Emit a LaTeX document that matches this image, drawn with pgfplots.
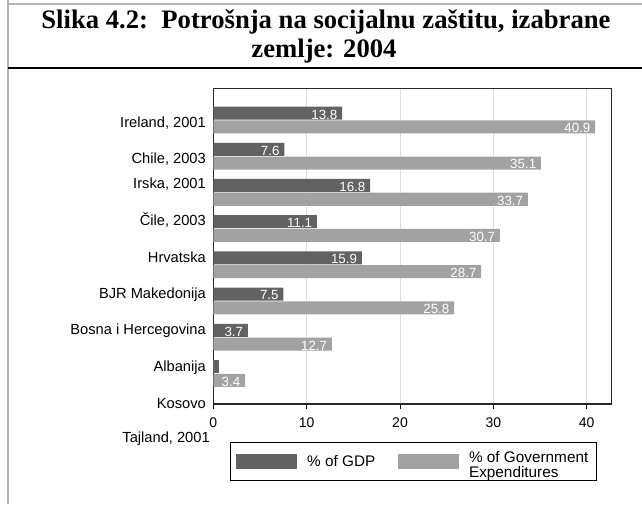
\documentclass[border=0pt]{standalone}
\usepackage{fontspec}
\setmainfont{Liberation Serif}
\newfontfamily\arial{Liberation Sans}
\usepackage{pgfplots}
\pgfplotsset{compat=1.18}
\definecolor{gdp}{HTML}{626262}
\definecolor{gov}{HTML}{A2A2A2}
\definecolor{gridc}{HTML}{DEDEDE}
\definecolor{framec}{HTML}{B4B4B4}
\begin{document}
\begin{tikzpicture}
\begin{scope}[x=0.75pt,y=0.75pt]
\path[use as bounding box] (0,0) rectangle (642,504);
\draw[framec, line width=1.1pt] (8,504) -- (8,0);
\draw[framec, line width=1.1pt] (8,500) -- (642,500);
\draw[black, line width=1.1pt] (8,436) -- (642,436);
\node[anchor=base, inner sep=0pt, font=\bfseries\fontsize{20}{22}\selectfont] at (326,475.5) {Slika 4.2:\ \ Potrošnja na socijalnu zaštitu, izabrane};
\node[anchor=base, inner sep=0pt, font=\bfseries\fontsize{20}{22}\selectfont] at (324,446) {zemlje: 2004};
\end{scope}
\begin{axis}[
  at={(160pt,75pt)}, anchor=south west,
  scale only axis, width=298.8pt, height=236.8pt,
  xmin=0, xmax=42.68, ymin=0.155, ymax=8.876,
  xbar, bar shift=0pt, bar width=0.36,
  clip=false,
  axis line style={line width=0.8pt, black!85},
  xtick={0,10,20,30,40},
  xtick pos=bottom,
  tick align=outside, major tick length=3.75pt,
  x tick style={black, line width=0.75pt},
  y tick style={draw=none},
  xmajorgrids, grid style={gridc, line width=0.75pt},
  /pgf/number format/assume math mode=true,
  xticklabel style={font=\arial\fontsize{10.5}{12}\selectfont, inner sep=0pt, yshift=-6.6pt},
  ytick={7.925,6.923,6.232,5.238,4.215,3.166,2.171,1.149,0.155},
  yticklabels={{Ireland, 2001},{Chile, 2003},{Irska, 2001},{Čile, 2003},Hrvatska,{BJR Makedonija},{Bosna i Hercegovina},Albanija,Kosovo},
  yticklabel style={font=\arial\fontsize{11}{13}\selectfont, inner sep=0pt, xshift=-1.7pt},
  point meta=explicit symbolic,
  every node near coord/.append style={font=\arial\fontsize{10}{11}\selectfont, text=white, anchor=east, inner sep=0pt, xshift=-3.4pt, yshift=-1pt},
  legend columns=2,
  legend cell align=left,
  legend image code/.code={\draw[#1,draw=none] (0pt,-5.6pt) rectangle (45.5pt,5.6pt);},
  legend style={at={(0.0419,-0.1213)}, anchor=north west, draw=black, line width=0.75pt,
    font=\arial\fontsize{11.5}{12.5}\selectfont, inner ysep=4pt, inner xsep=4.25pt,
    /tikz/every odd column/.append style={column sep=5.75pt},
    /tikz/every even column/.append style={column sep=15pt}},
]
\addplot[fill=gdp, draw=none, nodes near coords] coordinates {
  (13.8,8.19) [13.8]
  (7.6,7.19) [7.6]
  (16.8,6.19) [16.8]
  (11.1,5.19) [11.1]
  (15.9,4.19) [15.9]
  (7.5,3.19) [7.5]
  (3.7,2.19) [3.7]
};
\addlegendentry{\% of GDP}
\addplot[fill=gov, draw=none, nodes near coords] coordinates {
  (40.9,7.81) [40.9]
  (35.1,6.81) [35.1]
  (33.7,5.81) [33.7]
  (30.7,4.81) [30.7]
  (28.7,3.81) [28.7]
  (25.8,2.81) [25.8]
  (12.7,1.81) [12.7]
  (3.4,0.81) [3.4]
};
\addlegendentry{\begin{tabular}{@{}l@{}}\% of Government\\[-1pt]Expenditures\end{tabular}}
\addplot[fill=gdp, draw=none, forget plot] coordinates {(0.6,1.19)};
\node[anchor=east, inner sep=0pt, font=\arial\fontsize{11}{13}\selectfont, xshift=-2.5pt] at (axis cs:0,-0.812) {Tajland, 2001};
\end{axis}
\end{tikzpicture}
\end{document}
